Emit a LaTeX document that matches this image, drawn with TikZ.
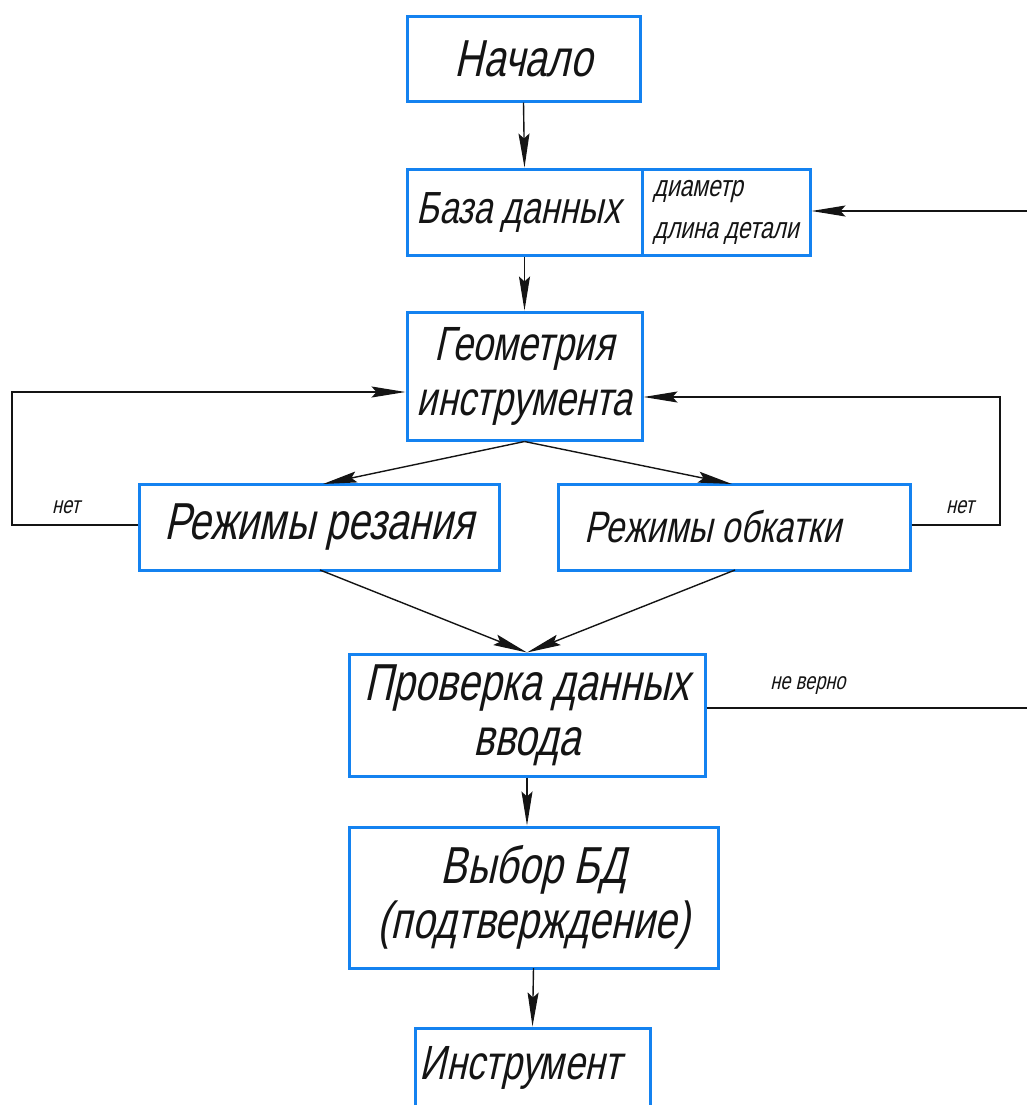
\documentclass[tikz,border=0pt]{standalone}
\usepackage{fontspec}
\usetikzlibrary{arrows.meta}
\newfontfamily\gost{Liberation Sans}[FakeSlant=0.22,FakeStretch=0.76]
\definecolor{boxblue}{RGB}{20,130,240}
\definecolor{ink}{RGB}{20,20,20}
\newcommand\gsize[2]{\gost\fontsize{#1}{#2}\selectfont}
\begin{document}
\begin{tikzpicture}[x=0.5pt,y=-0.5pt,
  box/.style={draw=boxblue, line width=1.5pt, inner sep=0pt, align=center, text=ink},
  conn/.style={draw=ink, line width=0.7pt},
  arr/.style={conn, -{Stealth[length=17pt,width=5.5pt,inset=2.5pt]}},
  lbl/.style={text=ink, font=\gsize{12}{14}, inner sep=0pt}]
\useasboundingbox (0,0) rectangle (1027,1110);
\begin{scope}
\clip (-20,-20) rectangle (1047,1104);

% blocks of the flow chart
\node[box, minimum width=116.5pt, minimum height=42.5pt, font=\gsize{26}{30}]
  (start) at (523.5,58.5) {Начало};
\node[box, minimum width=117.5pt, minimum height=43pt, font=\gsize{22.5}{24}]
  (db) at (524.5,212) {\hspace*{-6pt}База данных};
\node[box, minimum width=84pt, minimum height=43pt, align=left, font=\gsize{15}{21}]
  (dbpar) at (726,212) {диаметр\\длина детали};
\node[box, minimum width=117.5pt, minimum height=64pt, font=\gsize{24}{27.5}]
  (geom) at (524.5,376) {Геометрия\\инструмента};
\node[box, minimum width=180pt, minimum height=43pt, font=\gsize{26}{28}]
  (cut) at (319,527) {Режимы резания};
\node[box, minimum width=176pt, minimum height=43pt, font=\gsize{22}{26}]
  (roll) at (734,527) {\hspace*{-21pt}Режимы обкатки};
\node[box, minimum width=178pt, minimum height=61pt, font=\gsize{26}{27.5}]
  (check) at (527,715) {Проверка данных\\ввода};
\node[box, minimum width=184.5pt, minimum height=70.5pt, font=\gsize{26}{27.5}]
  (choice) at (533.5,897.5) {Выбор БД\\(подтверждение)};
\node[box, minimum width=117.5pt, minimum height=40pt, font=\gsize{24}{26}]
  (tool) at (532.5,1068) {\hspace*{-12pt}Инструмент};

% free ends of the feedback lines
\coordinate (inDB) at (1027,211);
\coordinate (outCheck) at (1027,708);

% main flow
\draw[arr] (start.south) -- (db.north);
\draw[arr] (db.south) -- (geom.north);
\draw[arr] (inDB) -- (dbpar.east |- inDB);
\draw[arr] (geom.south) -- (323,484);
\draw[arr] (geom.south) -- (732,484);
\draw[arr] (320,570) -- (check.north);
\draw[arr] (735,570) -- (check.north);
\draw[conn] (check.east |- outCheck) -- (outCheck);
\draw[arr] (check.south) -- (check.south |- choice.north);
\draw[arr] (533.5,968) -- (tool.north);

% "no" loops back to the tool geometry
\draw[arr] (cut.west |- 0,525) -- (12,525) -- (12,392) -- (geom.west |- 0,392);
\draw[arr] (roll.east |- 0,525) -- (1000,525) -- (1000,397) -- (geom.east |- 0,397);

% labels on the connectors
\node[lbl] (no1) at (66,507) {нет};
\node[lbl] (no2) at (960,507) {нет};
\node[lbl] (wrong) at (808,686) {не верно};
\end{scope}
\end{tikzpicture}
\end{document}
